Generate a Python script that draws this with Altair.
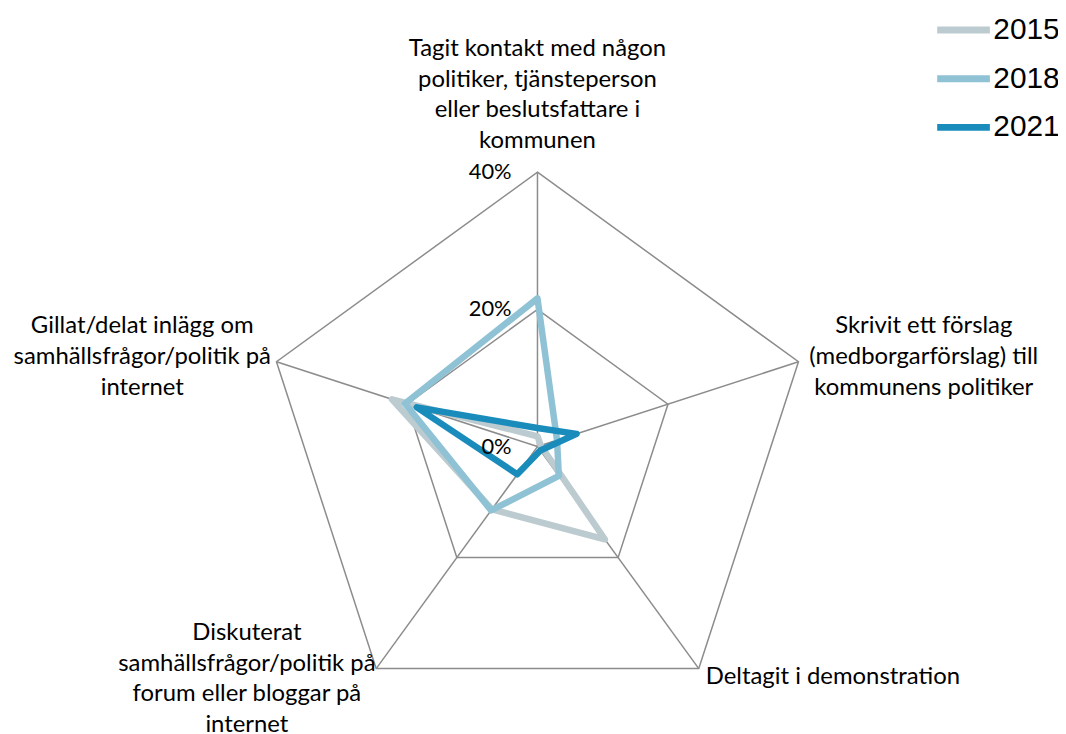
import math
import altair as alt
import pandas as pd

# ---------------- data ----------------
categories = [
    "Tagit kontakt med någon politiker, tjänsteperson eller beslutsfattare i kommunen",
    "Skrivit ett förslag (medborgarförslag) till kommunens politiker",
    "Deltagit i demonstration",
    "Diskuterat samhällsfrågor/politik på forum eller bloggar på internet",
    "Gillat/delat inlägg om samhällsfrågor/politik på internet",
]
category_lines = [
    ["Tagit kontakt med någon", "politiker, tjänsteperson", "eller beslutsfattare i", "kommunen"],
    ["Skrivit ett förslag", "(medborgarförslag) till", "kommunens politiker"],
    ["Deltagit i demonstration"],
    ["Diskuterat", "samhällsfrågor/politik på", "forum eller bloggar på", "internet"],
    ["Gillat/delat inlägg om", "samhällsfrågor/politik på", "internet"],
]
years = ["2015", "2018", "2021"]
v2015 = [1.5, 0.5, 16.7, 11.3, 22.3]
v2018 = [21.6, 3.0, 5.3, 11.5, 20.3]
v2021 = [2.7, 6.0, 0.7, 5.0, 18.5]
tick_values = [0, 20, 40]
tick_labels = ["0%", "20%", "40%"]
grid_levels = [20, 40]
axis_max = 40
colors = ["#BBCBCF", "#8FC2D4", "#1A8CBC"]

# ---------------- tables ----------------
series_rows = []
for yr, vals in zip(years, [v2015, v2018, v2021]):
    for i, v in enumerate(vals):
        series_rows.append({"idx": i, "category": categories[i], "year": yr, "value": v})
series_df = pd.DataFrame(series_rows)

ring_df = pd.DataFrame([{"idx": i, "level": lv, "value": lv}
                        for lv in grid_levels for i in range(len(categories))])
spoke_df = pd.DataFrame([{"idx": i, "value": axis_max} for i in range(len(categories))])
label_df = pd.DataFrame([{"idx": i, "value": axis_max, "text": category_lines[i]}
                         for i in range(len(categories))])
tick_df = pd.DataFrame([{"idx": 0, "value": v, "label": t} for v, t in zip(tick_values, tick_labels)])

# ---------------- geometry of the scales ----------------
W, H = 1056, 726
cx, cy = 532.5, 439.0          # centre of the radar inside the view (px)
ppu = 276.0 / axis_max         # pixels per percentage point
xs = alt.Scale(domain=[-cx / ppu, (W - cx) / ppu], nice=False, zero=False)
ys = alt.Scale(domain=[-(H - cy) / ppu, cy / ppu], nice=False, zero=False)

n = len(categories)
ang = f"PI/2 - datum.idx*2*PI/{n}"


def polar(ch):
    return ch.transform_calculate(
        px=f"datum.value*cos({ang})", py=f"datum.value*sin({ang})"
    )


X = alt.X("px:Q", scale=xs, axis=None)
Y = alt.Y("py:Q", scale=ys, axis=None)

grid_color = "#8C8C8C"

rings = polar(alt.Chart(ring_df)).mark_line(
    interpolate="linear-closed", color=grid_color, strokeWidth=1.5
).encode(x=X, y=Y, detail="level:N", order="idx:Q")

spokes = polar(alt.Chart(spoke_df)).mark_rule(color=grid_color, strokeWidth=1.5).encode(
    x=X, y=Y, x2=alt.datum(0), y2=alt.datum(0)
)

series = polar(alt.Chart(series_df)).mark_line(
    interpolate="linear-closed", strokeWidth=6.5, strokeJoin="round", strokeCap="round"
).encode(
    x=X, y=Y, order="idx:Q",
    color=alt.Color(
        "year:N",
        scale=alt.Scale(domain=years, range=colors),
        legend=alt.Legend(
            title=None, orient="none", legendX=931, legendY=-10,
            symbolType="stroke", symbolSize=2809, symbolStrokeWidth=7,
            labelFont="Liberation Sans", labelFontSize=30, labelColor="black",
            labelOffset=0, rowPadding=4, padding=0,
        ),
    ),
)

ticks = polar(alt.Chart(tick_df)).mark_text(
    align="right", baseline="middle", dx=-26, font="Lato", fontSize=22, color="black"
).encode(x=X, y=Y, text="label:N")

label_specs = [
    dict(align="center", baseline="middle", dx=0, dy=-124),
    dict(align="center", baseline="middle", dx=126, dy=-36),
    dict(align="left", baseline="middle", dx=7, dy=8),
    dict(align="center", baseline="middle", dx=-130, dy=-36),
    dict(align="center", baseline="middle", dx=-135, dy=-36),
]
label_layers = []
for i, spec in enumerate(label_specs):
    label_layers.append(
        polar(alt.Chart(label_df).transform_filter(f"datum.idx == {i}")).mark_text(
            font="Lato", fontSize=24, lineHeight=31, color="black", **spec
        ).encode(x=X, y=Y, text="text")
    )

chart = alt.layer(rings, spokes, series, ticks, *label_layers).properties(
    width=W, height=H, autosize=alt.AutoSizeParams(type="none"), padding=0
).configure_view(stroke=None)

chart.save("out.html", embed_options={"renderer": "svg", "actions": False})
